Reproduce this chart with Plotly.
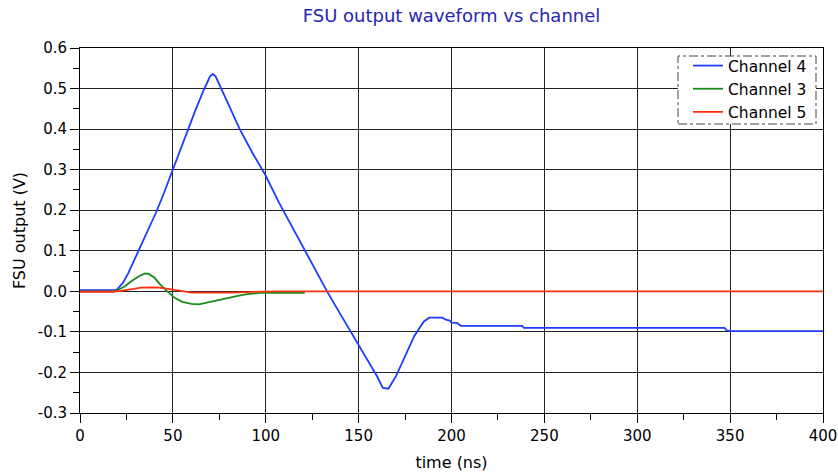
import plotly.graph_objects as go

# Channel 4 (blue)
ch4_t = [0, 19, 20, 23, 26, 30, 33, 37, 41, 45, 50, 54, 58, 62, 66, 70, 71.5, 73,
         78, 86, 93, 100, 107, 114, 121, 128, 133, 140, 147, 154, 160, 163, 166,
         170, 175, 180, 185, 188, 190, 195, 197, 199, 200, 203, 205, 238, 239,
         347, 348, 350, 400]
ch4_v = [0.003, 0.003, 0.005, 0.02, 0.045, 0.085, 0.115, 0.155, 0.195, 0.24, 0.3, 0.35,
         0.4, 0.445, 0.49, 0.53, 0.536, 0.53, 0.48, 0.4, 0.34, 0.285, 0.22, 0.16,
         0.1, 0.04, 0.0, -0.055, -0.11, -0.165, -0.21, -0.238, -0.24, -0.21, -0.16,
         -0.11, -0.075, -0.065, -0.065, -0.065, -0.07, -0.072, -0.077, -0.078,
         -0.085, -0.085, -0.09, -0.09, -0.096, -0.098, -0.098]

# Channel 3 (green)
ch3_t = [0, 18, 20, 24, 28, 32, 35, 37, 40, 43, 47, 51, 55, 60, 64, 68, 73, 79,
         85, 90, 97, 105, 121]
ch3_v = [0.0, 0.0, 0.002, 0.012, 0.026, 0.038, 0.044, 0.043, 0.034, 0.018, 0.0,
         -0.016, -0.026, -0.031, -0.032, -0.028, -0.022, -0.016, -0.011, -0.007,
         -0.004, -0.004, -0.004]

# Channel 5 (red)
ch5_t = [0, 18, 22, 28, 33, 38, 43, 50, 55, 60, 80, 100, 105, 400]
ch5_v = [-0.001, -0.001, 0.001, 0.005, 0.009, 0.01, 0.009, 0.004, 0.0, -0.003,
         -0.003, -0.002, 0.0, 0.0]

x_ticks = [0, 50, 100, 150, 200, 250, 300, 350, 400]
y_ticks = [-0.3, -0.2, -0.1, 0.0, 0.1, 0.2, 0.3, 0.4, 0.5, 0.6]

FONT = "DejaVu Sans, Verdana, sans-serif"

fig = go.Figure()
fig.add_trace(go.Scatter(x=ch4_t, y=ch4_v, mode="lines", name="Channel 4",
                         line=dict(color="#1f3cff", width=1.8)))
fig.add_trace(go.Scatter(x=ch3_t, y=ch3_v, mode="lines", name="Channel 3",
                         line=dict(color="#1a8c1a", width=1.8)))
fig.add_trace(go.Scatter(x=ch5_t, y=ch5_v, mode="lines", name="Channel 5",
                         line=dict(color="#ff3010", width=1.8)))

tick_font = dict(family=FONT, size=15, color="black")
title_font = dict(family=FONT, size=16, color="black")

fig.update_layout(
    width=838, height=475,
    margin=dict(l=80, r=15, t=48, b=62, autoexpand=False),
    paper_bgcolor="white", plot_bgcolor="white",
    title=dict(text="FSU output waveform vs channel", x=(80 + 823) / 2 / 838, xanchor="center",
               y=1 - 16 / 475, yanchor="middle",
               font=dict(family=FONT, size=18, color="#2626b0")),
    showlegend=True,
    legend=dict(x=(688 - 80) / 743, xanchor="left", y=(413 - 49) / 365, yanchor="top",
                bgcolor="rgba(0,0,0,0)", borderwidth=0,
                font=dict(family=FONT, size=15.5, color="black"),
                tracegroupgap=0, itemwidth=30),
    xaxis=dict(range=[0, 400], tickvals=x_ticks, ticks="outside", ticklen=9,
               tickcolor="black", showgrid=True, gridcolor="#222", gridwidth=1,
               zeroline=False, showline=True, linecolor="black", linewidth=1, mirror=True,
               automargin=False,
               minor=dict(dtick=25, ticks="outside", ticklen=6, tickcolor="black", showgrid=False),
               title=dict(text="time (ns)", font=title_font, standoff=12),
               tickfont=tick_font),
    yaxis=dict(range=[-0.3, 0.6], tickvals=y_ticks, ticktext=[f"{v:.1f}" for v in y_ticks],
               ticks="outside", ticklen=9,
               tickcolor="black", showgrid=True, gridcolor="#222", gridwidth=1,
               zeroline=False, showline=True, linecolor="black", linewidth=1, mirror=True,
               automargin=False,
               minor=dict(dtick=0.05, ticks="outside", ticklen=6, tickcolor="black", showgrid=False),
               title=dict(text="FSU output (V)", font=title_font, standoff=8),
               tickfont=tick_font),
)

# dash-dot legend frame
fig.add_shape(type="rect", xref="paper", yref="paper",
              x0=(678 - 80) / 743, x1=(816 - 80) / 743,
              y0=(413 - 124) / 365, y1=(413 - 56) / 365,
              line=dict(color="#444", width=1, dash="dashdot"), fillcolor="white",
              layer="above")

fig.write_html("out.html",
               config={"displayModeBar": False},
               post_script="document.body.style.margin='0';document.body.style.overflow='hidden';")
